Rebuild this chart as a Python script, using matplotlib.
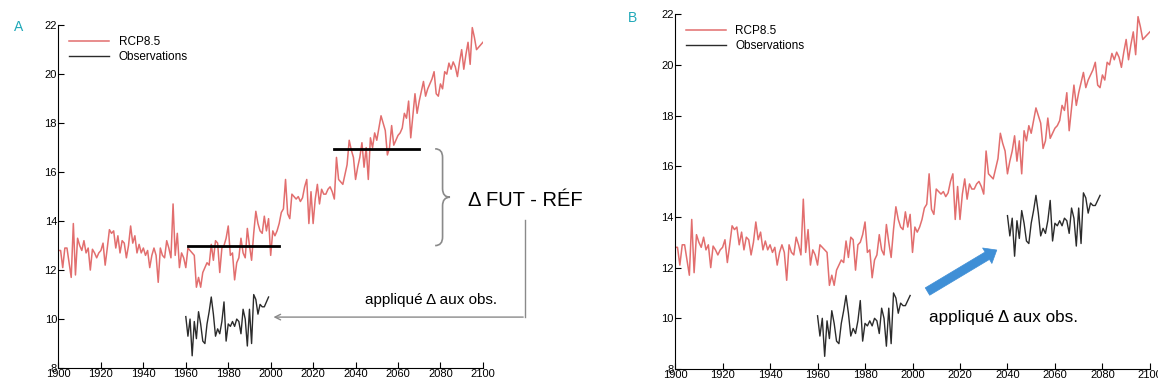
import matplotlib.pyplot as plt
from matplotlib.path import Path
from matplotlib.patches import PathPatch, FancyArrowPatch

plt.rcParams['font.family'] = ['Liberation Sans', 'DejaVu Sans']

years = list(range(1900, 2101))
# RCP8.5 simulated temperature, one value per year 1900-2100
rcp85 = [12.8, 12.8, 12.1, 12.9, 12.9, 12.3, 11.7, 13.9, 11.8, 13.3,
         13.0, 12.8, 13.2, 12.7, 12.9, 12.0, 12.85, 12.7, 12.5, 12.7,
         12.8, 13.1, 12.2, 12.9, 13.65, 13.5, 13.6, 12.9, 13.4, 12.7,
         13.2, 13.1, 12.5, 13.0, 13.8, 13.1, 13.4, 12.7, 13.05, 12.7,
         12.9, 12.6, 12.8, 12.1, 12.6, 12.9, 12.6, 11.5, 12.9, 12.6,
         12.5, 13.2, 12.9, 12.5, 14.7, 12.6, 13.5, 12.1, 12.7, 12.5,
         12.1, 12.9, 12.8, 12.7, 12.6, 11.3, 11.7, 11.3, 11.9, 12.1,
         12.3, 12.2, 13.05, 12.4, 13.2, 13.1, 11.9, 12.9, 13.0, 13.3,
         13.8, 12.6, 12.7, 11.6, 12.3, 12.5, 13.3, 12.7, 12.5, 13.7,
         13.0, 12.4, 13.5, 14.4, 13.9, 13.6, 13.5, 14.2, 13.6, 14.1,
         12.6, 13.6, 13.4, 13.6, 13.9, 14.35, 14.5, 15.7, 14.3, 14.1,
         15.1, 15.0, 14.9, 15.0, 14.8, 14.95, 15.4, 15.7, 13.9, 15.2,
         13.9, 14.9, 15.5, 14.7, 15.3, 15.1, 15.1, 15.3, 15.4, 15.2,
         14.9, 16.6, 15.7, 15.6, 15.5, 15.9, 16.3, 17.3, 16.9, 16.6,
         15.7, 16.2, 16.6, 17.2, 16.2, 17.0, 15.7, 17.4, 17.0, 17.6,
         17.3, 17.8, 18.3, 18.0, 17.7, 16.7, 17.0, 17.9, 17.1, 17.3,
         17.5, 17.6, 17.8, 18.4, 18.2, 18.9, 17.4, 18.3, 19.2, 18.4,
         18.9, 19.3, 19.7, 19.1, 19.4, 19.6, 19.8, 20.1, 19.2, 19.1,
         19.6, 19.4, 20.1, 20.0, 20.45, 20.2, 20.5, 20.3, 19.9, 20.5,
         21.0, 20.2, 20.8, 21.3, 20.4, 21.9, 21.5, 21.0, 21.1, 21.2,
         21.3]

obs_years = list(range(1960, 2000))
obs = [10.1, 9.3, 10.0, 8.5, 9.9, 9.2, 10.3, 9.8, 9.1, 9.0,
       9.8, 10.3, 10.9, 10.2, 9.3, 9.6, 9.4, 9.9, 10.7, 9.1,
       9.8, 9.7, 9.9, 9.7, 10.0, 9.9, 9.4, 10.4, 10.0, 8.9,
       10.4, 9.0, 11.0, 10.8, 10.2, 10.6, 10.5, 10.5, 10.7, 10.9]

ref_period = [1961, 2004]
fut_period = [2030, 2070]
ref_mean = 13.0
fut_mean = 16.95

delta = fut_mean - ref_mean
obs_shift_years = [y + 80 for y in obs_years]
obs_shift = [v + delta for v in obs]

red = '#e26e6e'
dark = '#2b2b2b'
gray = '#8a8a8a'
teal = '#1fa8b8'
blue = '#3f8fd6'

fig = plt.figure(figsize=(11.58, 3.87), dpi=100)
axA = fig.add_axes([0.0505, 0.049, 0.3665, 0.886])
axB = fig.add_axes([0.583, 0.0465, 0.41, 0.917])

for ax in (axA, axB):
    ax.plot(years, rcp85, color=red, lw=1.1, label='RCP8.5')
    ax.plot(obs_years, obs, color=dark, lw=1, label='Observations')
    ax.set_xlim(1900, 2100)
    ax.set_ylim(8, 22)
    ax.set_xticks(range(1900, 2101, 20))
    ax.set_yticks(range(8, 23, 2))
    ax.tick_params(direction='in', length=4, labelsize=8, pad=1)
    ax.spines['top'].set_visible(False)
    ax.spines['right'].set_visible(False)
    ax.legend(loc='upper left', bbox_to_anchor=(0.0, 1.0), frameon=False,
              fontsize=8.5, handlelength=3.4, labelspacing=0.3)

# panel A: reference / future means, brace, arrow
axA.plot(ref_period, [ref_mean, ref_mean], color='black', lw=2)
axA.plot(fut_period, [fut_mean, fut_mean], color='black', lw=2)

x0, w = 2077.5, 7.0
yt, yb = fut_mean, ref_mean
ym = (yt + yb) / 2
d = 0.35
verts = [(x0, yt), (x0 + w / 2, yt), (x0 + w / 2, yt - d),
         (x0 + w / 2, ym + d),
         (x0 + w / 2, ym), (x0 + w, ym),
         (x0 + w / 2, ym), (x0 + w / 2, ym - d),
         (x0 + w / 2, yb + d),
         (x0 + w / 2, yb), (x0, yb)]
codes = [Path.MOVETO, Path.CURVE3, Path.CURVE3, Path.LINETO,
         Path.CURVE3, Path.CURVE3, Path.CURVE3, Path.CURVE3,
         Path.LINETO, Path.CURVE3, Path.CURVE3]
axA.add_patch(PathPatch(Path(verts, codes), fill=False, ec=gray, lw=1.2,
                        clip_on=False))

axA.text(2093, 14.86, 'Δ FUT - RÉF', fontsize=14.5, ha='left', va='center',
         clip_on=False)
axA.plot([2119.8, 2119.8], [14.04, 10.08], color=gray, lw=1, clip_on=False)
axA.annotate('', xy=(2000, 10.08), xytext=(2120.3, 10.08),
             arrowprops=dict(arrowstyle='->', color=gray, lw=1),
             annotation_clip=False)
axA.text(2044.4, 10.78, 'appliqué Δ aux obs.', fontsize=11, ha='left',
         va='center', clip_on=False)

# panel B: observations shifted by delta
axB.plot(obs_shift_years, obs_shift, color=dark, lw=1)
axB.add_patch(FancyArrowPatch((2005.3, 11.0), (2036.5, 12.75),
                              arrowstyle='simple,head_length=0.8,head_width=1.3,tail_width=0.62',
                              mutation_scale=10, fc=blue, ec=blue, lw=0.5))
axB.text(2007, 10.05, 'appliqué Δ aux obs.', fontsize=12.3, ha='left',
         va='center')

fig.text(0.012, 0.93, 'A', color=teal, fontsize=10, va='center')
fig.text(0.542, 0.953, 'B', color=teal, fontsize=10, va='center')

plt.savefig('out.png', dpi=100)
